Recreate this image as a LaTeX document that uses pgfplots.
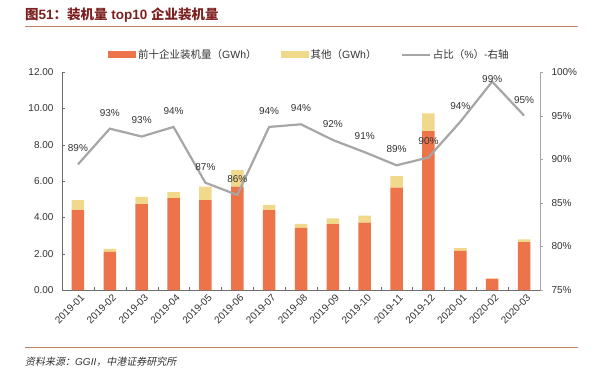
\documentclass[border=0pt]{standalone}
\usepackage{pgfplots}
\pgfplotsset{compat=1.18}
\usepackage{fontspec}
\setmainfont{Liberation Sans}
\newfontfamily\cjk{Noto Sans CJK SC}
\newfontfamily\cjkit{Noto Sans CJK SC}[FakeSlant=0.2]
\definecolor{barorange}{RGB}{236,115,74}
\definecolor{baryellow}{RGB}{241,217,140}
\definecolor{linegray}{RGB}{166,166,166}
\definecolor{titlered}{RGB}{125,32,32}
\definecolor{ruleline}{RGB}{190,130,105}
\definecolor{axisgray}{RGB}{110,110,110}
\definecolor{txt}{RGB}{50,50,50}

\pgfplotstableread{
x top other
0 4.40 0.55
1 2.10 0.16
2 4.73 0.39
3 5.06 0.33
4 4.95 0.74
5 5.69 0.91
6 4.40 0.28
7 3.42 0.22
8 3.63 0.31
9 3.71 0.38
10 5.63 0.64
11 8.75 0.97
12 2.16 0.14
13 0.61 0.03
14 2.64 0.14
}\bardata

\pgfplotstableread{
x share lab
0 89.4 89\%
1 93.5 93\%
2 92.6 93\%
3 93.7 94\%
4 87.3 87\%
5 85.9 86\%
6 93.7 94\%
7 94.0 94\%
8 92.2 92\%
9 90.8 91\%
10 89.3 89\%
11 90.2 90\%
12 94.3 94\%
13 98.9 99\%
14 95.0 95\%
}\linedata

\pgfplotstableread{
x share lab
0 89.4 89\%
1 93.5 93\%
2 92.6 93\%
3 93.7 94\%
4 87.3 87\%
5 85.9 86\%
6 93.7 94\%
7 94.0 94\%
8 92.2 92\%
9 90.8 91\%
10 89.3 89\%
11 90.2 90\%
12 94.3 94\%
14 95.0 95\%
}\labdata

\pgfplotstableread{
x share lab
13 98.9 99\%
}\labtop

\begin{document}
\begin{tikzpicture}
\path[use as bounding box] (0pt,0pt) rectangle (600pt,373pt);
% title
\node[anchor=west, text=titlered, inner sep=0pt] at (25pt,358pt)
  {\fontsize{13.5}{15}\selectfont\bfseries{\cjk 图}51{\cjk ：装机量} top10 {\cjk 企业装机量}};
\draw[ruleline, line width=1pt] (25pt,346.5pt) -- (578pt,346.5pt);
% footer
\draw[ruleline, line width=0.8pt] (25pt,26pt) -- (578pt,26pt);
\node[anchor=west, text=txt, inner sep=0pt] at (25pt,11pt)
  {\fontsize{10}{12}\selectfont{\cjkit 资料来源：}\textit{GGII}{\cjkit ，中港证券研究所}};

\begin{axis}[
  at={(62pt,83pt)}, anchor=south west,
  scale only axis, width=478pt, height=218pt,
  ybar stacked, bar width=12.5pt,
  xmin=-0.5, xmax=14.5, ymin=0, ymax=12,
  ytick={0,2,...,12},
  y tick label style={/pgf/number format/fixed, /pgf/number format/fixed zerofill, /pgf/number format/precision=2, xshift=-5pt},
  /pgf/number format/assume math mode=true,
  xtick={0,...,14},
  xticklabels={2019-01,2019-02,2019-03,2019-04,2019-05,2019-06,2019-07,2019-08,2019-09,2019-10,2019-11,2019-12,2020-01,2020-02,2020-03},
  major x tick style={draw=none},
  minor xtick={-0.5,0.5,...,14.5},
  minor x tick style={axisgray},
  minor tick length=3pt,
  major tick length=3pt,
  axis x line*=bottom, axis y line*=left,
  axis line style={axisgray, line width=0.8pt},
  y tick style={axisgray},
  tick align=inside,
  xticklabel style={rotate=45, anchor=north east, inner sep=1pt, yshift=-3pt, xshift=0pt},
  tick label style={font=\fontsize{10}{12}\selectfont, text=txt},
  legend columns=3,
  legend style={draw=none, fill=none, at={(0.09,1.078)}, anchor=west,
    font=\fontsize{10.5}{12}\selectfont, text=txt,
    /tikz/every even column/.append style={column sep=22pt}},
  clip=false,
]
\addplot[fill=barorange, draw=none,
  legend image code/.code={\fill[barorange] (0pt,-3.5pt) rectangle (28pt,3.5pt);}]
  table[x=x, y=top] {\bardata};
\addlegendentry{{\cjk 前十企业装机量（}GWh{\cjk ）}}
\addplot[fill=baryellow, draw=none,
  legend image code/.code={\fill[baryellow] (0pt,-3.5pt) rectangle (28pt,3.5pt);}]
  table[x=x, y=other] {\bardata};
\addlegendentry{{\cjk 其他（}GWh{\cjk ）}}
\addlegendimage{legend image code/.code={\draw[linegray, line width=2.2pt] (0pt,0pt) -- (28pt,0pt);}}
\addlegendentry{{\cjk 占比（}\%{\cjk ）-右轴}}
\end{axis}

\begin{axis}[
  at={(62pt,83pt)}, anchor=south west,
  scale only axis, width=478pt, height=218pt,
  xmin=-0.5, xmax=14.5, ymin=75, ymax=100,
  ytick={75,80,...,100},
  yticklabel={\pgfmathprintnumber{\tick}\%},
  /pgf/number format/assume math mode=true,
  axis y line*=right, axis x line=none,
  axis line style={linegray, line width=0.8pt},
  y tick style={linegray},
  major tick length=3pt,
  tick align=outside,
  y tick label style={xshift=5pt},
  tick label style={font=\fontsize{10}{12}\selectfont, text=txt},
  clip=false,
]
\addplot[linegray, line width=2.2pt, mark=none]
  table[x=x, y=share] {\linedata};
\addplot[draw=none, mark=none,
  nodes near coords, point meta=explicit symbolic,
  nodes near coords style={anchor=center, yshift=16pt, font=\fontsize{10}{12}\selectfont, text=txt}]
  table[x=x, y=share, meta=lab] {\labdata};
\addplot[draw=none, mark=none,
  nodes near coords, point meta=explicit symbolic,
  nodes near coords style={anchor=center, yshift=3pt, font=\fontsize{10}{12}\selectfont, text=txt}]
  table[x=x, y=share, meta=lab] {\labtop};
\end{axis}
\end{tikzpicture}
\end{document}
